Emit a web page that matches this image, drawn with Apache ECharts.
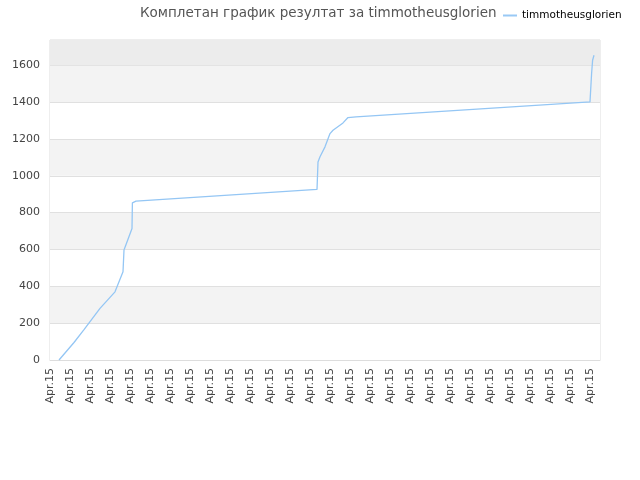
<!DOCTYPE html>
<html>
<head>
<meta charset="utf-8">
<script src="https://cdn.jsdelivr.net/npm/echarts@6/dist/echarts.min.js"></script>
<style>
html, body { margin: 0; padding: 0; background: #fff; }
#chart { width: 640px; height: 480px; }
</style>
</head>
<body>
<div id="chart"></div>
<script>
// values (x = sample index, y = cumulative score)
var stepX = [4.5, 12, 17, 25, 32.5, 36.5, 37, 41, 41.2, 43, 133.5, 134, 135, 137.5, 140, 141.5, 146.5, 149, 153, 270, 270.8, 271.3, 272];
var score = [0, 95, 165, 280, 370, 479, 597, 714, 853, 862, 926, 1075, 1103, 1157, 1229, 1247, 1287, 1316, 1320, 1401, 1555, 1627, 1654];
var tickLabel = 'Apr.15';
var yTop = 1737;

var points = stepX.map(function (x, i) { return [x, score[i]]; });

var chart = echarts.init(document.getElementById('chart'));
chart.setOption({
    animation: false,
    title: {
        text: 'Комплетан график резултат за timmotheusglorien',
        left: 135,
        top: 1,
        textStyle: { fontFamily: 'DejaVu Sans', fontSize: 13.5, fontWeight: 'normal', color: '#555' }
    },
    legend: {
        left: 498,
        top: 5,
        itemWidth: 14,
        itemHeight: 2,
        itemGap: 5,
        textStyle: { fontFamily: 'DejaVu Sans', fontSize: 10.5, color: '#000' },
        data: [{ name: 'timmotheusglorien', icon: 'rect' }]
    },
    grid: {
        left: 50, right: 40, top: 40, bottom: 120,
        show: true, borderColor: '#ddd', borderWidth: 1
    },
    xAxis: {
        type: 'value',
        min: 0,
        max: 275,
        interval: 10,
        axisLine: { show: true, lineStyle: { color: '#ddd' } },
        axisTick: { show: false },
        splitLine: { show: false },
        axisLabel: {
            rotate: 90,
            showMaxLabel: false,
            margin: 8,
            fontFamily: 'DejaVu Sans',
            fontSize: 11,
            color: '#444',
            formatter: function () { return tickLabel; }
        }
    },
    yAxis: {
        type: 'value',
        min: 0,
        max: yTop,
        interval: 200,
        axisLine: { show: false },
        axisTick: { show: false },
        axisLabel: {
            showMaxLabel: false, margin: 10, fontFamily: 'DejaVu Sans', fontSize: 11, color: '#444',
            formatter: function (v) { return String(v); }
        },
        splitLine: { show: true, lineStyle: { color: '#e0e0e0' } },
        splitArea: { show: true, areaStyle: { color: ['#ffffff', '#f3f3f3'] } }
    },
    series: [{
        name: 'timmotheusglorien',
        type: 'line',
        data: points,
        showSymbol: false,
        color: '#99c9f5',
        lineStyle: { width: 1.3, color: '#94c6f4' },
        markArea: {
            silent: true,
            itemStyle: { color: '#ececec' },
            data: [[{ yAxis: 1600 }, { yAxis: yTop }]]
        }
    }]
});
</script>
</body>
</html>
